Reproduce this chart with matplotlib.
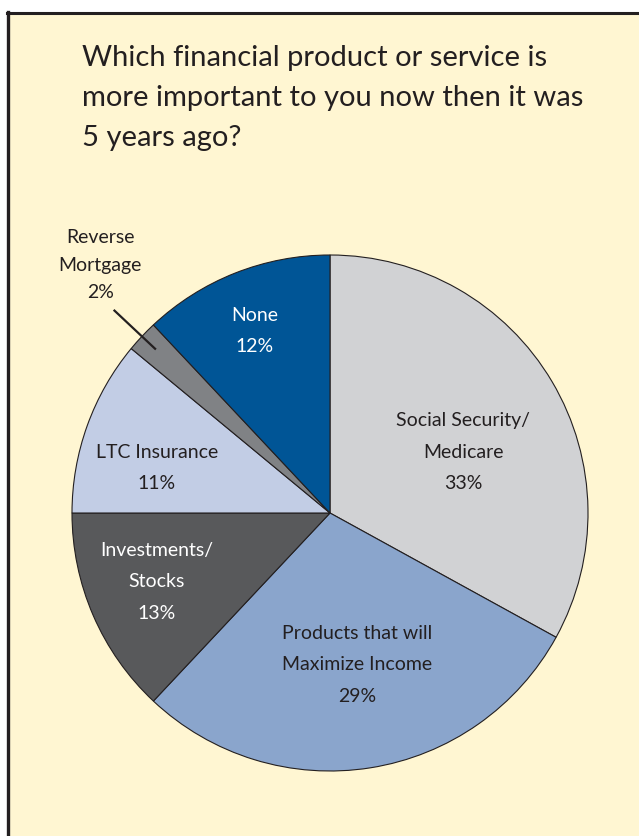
"""Pie chart: which financial product matters more now than 5 years ago."""

import matplotlib

matplotlib.use("Agg")
import matplotlib.pyplot as plt
import numpy as np
from matplotlib.lines import Line2D
from matplotlib.patches import Rectangle

# data, clockwise from 12 o'clock
labels = [
    "Social Security/\nMedicare",
    "Products that will\nMaximize Income",
    "Investments/\nStocks",
    "LTC Insurance",
    "Reverse\nMortgage",
    "None",
]
shares = [33, 29, 13, 11, 2, 12]
colors = ["#D1D2D4", "#8AA5CC", "#58595B", "#C2CDE5", "#808285", "#005596"]
text_colors = ["#231F20", "#231F20", "white", "#231F20", "#231F20", "white"]

# label anchors in pie units (radius = 1)
label_xy = [
    (0.516, 0.236),
    (0.105, -0.589),
    (-0.671, -0.267),
    (-0.671, 0.174),
    (-0.891, 0.96),
    (-0.291, 0.705),
]

TITLE = "Which financial product or service is\nmore important to you now then it was\n5 years ago?"
FONT = "Lato"
W, H = 639, 836

fig = plt.figure(figsize=(W / 100, H / 100), dpi=100, facecolor="white")

# cream panel with dark top and left rules
fig.patches.append(Rectangle((8 / W, 0), 1, (H - 13) / H, transform=fig.transFigure,
                             facecolor="#FFF6D2", edgecolor="none", zorder=-5))
fig.lines.append(Line2D([7 / W, 1], [1 - 12.5 / H, 1 - 12.5 / H], transform=fig.transFigure,
                        color="#231F20", lw=2.2, zorder=-4))
fig.lines.append(Line2D([7.5 / W, 7.5 / W], [0, 1 - 11.5 / H], transform=fig.transFigure,
                        color="#231F20", lw=2.4, zorder=-4))

fig.text(82 / W, 1 - 45 / H, TITLE, ha="left", va="top", fontsize=21,
         family=FONT, color="#231F20", linespacing=1.66)

cx, cy, r = 330, 513, 258
ax = fig.add_axes([(cx - r) / W, (H - cy - r) / H, 2 * r / W, 2 * r / H])
ax.patch.set_visible(False)
wedges, _ = ax.pie(shares, colors=colors, startangle=90, counterclock=False,
                   wedgeprops=dict(edgecolor="#231F20", linewidth=0.8))
ax.set_xlim(-1, 1)
ax.set_ylim(-1, 1)

for i, (lab, val, (x, y), tc) in enumerate(zip(labels, shares, label_xy, text_colors)):
    ax.text(x, y, f"{lab}\n{val}%", ha="center", va="center", fontsize=14,
            family=FONT, color=tc, linespacing=1.75 if i == 4 else 2.05)

# leader line for the thin Reverse Mortgage slice
w = wedges[4]
mid = np.deg2rad((w.theta1 + w.theta2) / 2)
ax.plot([1.146 * np.cos(mid), 0.93 * np.cos(mid)], [1.146 * np.sin(mid), 0.93 * np.sin(mid)],
        color="#231F20", lw=1.6, clip_on=False)

fig.savefig("out.png", dpi=100, facecolor="white")
